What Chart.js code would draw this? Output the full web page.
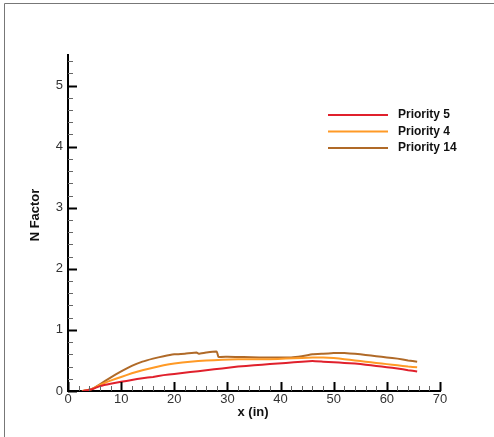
<!DOCTYPE html>
<html>
<head>
<meta charset="utf-8">
<script src="https://cdn.jsdelivr.net/npm/chart.js@4"></script>
<style>
  html, body { margin: 0; padding: 0; background: #fff; }
  #wrap { width: 494px; height: 437px; position: relative; }
</style>
</head>
<body>
<div id="wrap"><canvas id="nChart"></canvas></div>
<script>
// Priority 5 (red)
const xP5 = [2.8, 4.5, 6, 8, 10, 12, 14, 16, 18, 20, 23, 26, 29, 32, 35, 38, 41, 44, 46, 48, 50, 52, 54, 56, 58, 60, 62, 64, 65.7];
const yP5 = [0, 0.03, 0.08, 0.12, 0.15, 0.18, 0.21, 0.23, 0.26, 0.28, 0.31, 0.34, 0.37, 0.4, 0.42, 0.44, 0.46, 0.48, 0.49, 0.48, 0.47, 0.46, 0.45, 0.43, 0.41, 0.39, 0.37, 0.34, 0.32];

// Priority 4 (orange)
const xP4 = [2.8, 4.5, 6, 8, 10, 12, 14, 16, 18, 20, 23, 26, 29, 32, 35, 38, 41, 44, 46, 48, 50, 52, 54, 56, 58, 60, 62, 64, 65.7];
const yP4 = [0, 0.03, 0.1, 0.17, 0.23, 0.29, 0.34, 0.38, 0.42, 0.45, 0.48, 0.5, 0.51, 0.52, 0.52, 0.52, 0.53, 0.54, 0.55, 0.55, 0.54, 0.52, 0.5, 0.48, 0.46, 0.44, 0.42, 0.4, 0.39];

// Priority 14 (brown)
const xP14 = [2.6, 4.4, 6, 8, 10, 12, 14, 16, 18, 20, 22, 24.2, 24.6, 26, 28, 28.3, 30, 33, 36, 39, 42, 44, 46, 48, 50, 52, 54, 56, 58, 60, 62, 64, 65.7];
const yP14 = [0, 0.03, 0.11, 0.22, 0.32, 0.41, 0.48, 0.53, 0.57, 0.6, 0.61, 0.63, 0.61, 0.63, 0.645, 0.56, 0.56, 0.555, 0.55, 0.55, 0.55, 0.57, 0.6, 0.61, 0.62, 0.62, 0.61, 0.59, 0.57, 0.55, 0.53, 0.5, 0.48];

const seriesNames = ["Priority 5", "Priority 4", "Priority 14"];
const xTickLabels = [0, 10, 20, 30, 40, 50, 60, 70];
const yTickLabels = [0, 1, 2, 3, 4, 5];

const pts = (xs, ys) => xs.map((x, i) => ({ x: x, y: ys[i] }));

// inward tick marks, legend, titles, frame
const decor = {
  id: "decor",
  afterDraw(chart) {
    const c = chart.ctx;
    const a = chart.chartArea;
    const xs = chart.scales.x, ys = chart.scales.y;
    c.save();
    // frame (top & left only, like the screenshot)
    c.strokeStyle = "#777";
    c.lineWidth = 1;
    c.beginPath();
    c.moveTo(4.5, 437); c.lineTo(4.5, 3.5); c.lineTo(494, 3.5);
    c.stroke();

    // x ticks
    for (let v = 0; v <= 70; v += 2) {
      const px = Math.round(xs.getPixelForValue(v)) + 0.5;
      const major = v % 10 === 0;
      c.strokeStyle = major ? "#000" : "#666";
      c.lineWidth = major ? 2 : 1;
      c.beginPath();
      c.moveTo(px, a.bottom);
      c.lineTo(px, a.bottom - (major ? 9 : 5));
      c.stroke();
    }
    // y ticks
    for (let k = 0; k <= 27; k++) {
      const v = k * 0.2;
      const py = Math.round(ys.getPixelForValue(v)) + 0.5;
      const major = k % 5 === 0;
      c.strokeStyle = major ? "#000" : "#666";
      c.lineWidth = major ? 2 : 1;
      c.beginPath();
      c.moveTo(a.left, py);
      c.lineTo(a.left + (major ? 9 : 5), py);
      c.stroke();
    }

    // legend
    c.font = "bold 12px 'Liberation Sans', Arial, sans-serif";
    c.textBaseline = "middle";
    c.textAlign = "left";
    chart.data.datasets.forEach((ds, i) => {
      const yy = 115 + i * 16.5;
      c.strokeStyle = ds.borderColor;
      c.lineWidth = 2;
      c.beginPath();
      c.moveTo(328, yy); c.lineTo(388, yy);
      c.stroke();
      c.fillStyle = "#111";
      c.fillText(ds.label, 398, yy);
    });

    // axis titles
    c.font = "bold 13px 'Liberation Sans', Arial, sans-serif";
    c.fillStyle = "#111";
    c.textAlign = "center";
    c.fillText("x (in)", (a.left + a.right) / 2 - 1, 412);
    c.translate(35, 215);
    c.rotate(-Math.PI / 2);
    c.fillText("N Factor", 0, 0);
    c.restore();
  }
};

const ctx = document.querySelector("#nChart").getContext("2d");

new Chart(ctx, {
  type: "line",
  data: {
    datasets: [
      { label: seriesNames[0], data: pts(xP5, yP5), borderColor: "#e0202c" },
      { label: seriesNames[1], data: pts(xP4, yP4), borderColor: "#ff9a26" },
      { label: seriesNames[2], data: pts(xP14, yP14), borderColor: "#b06a28" }
    ]
  },
  options: {
    responsive: true,
    maintainAspectRatio: false,
    animation: false,
    layout: { padding: { top: 55, right: 54, bottom: 24, left: 0 } },
    elements: {
      point: { radius: 0 },
      line: { borderWidth: 2, tension: 0.1 }
    },
    plugins: { legend: { display: false }, tooltip: { enabled: false } },
    scales: {
      x: {
        type: "linear",
        min: 0,
        max: 70,
        grid: { display: false, drawTicks: false },
        border: { display: true, color: "#000", width: 2 },
        afterFit: (s) => { s.height = 22; },
        afterBuildTicks: (s) => { s.ticks = xTickLabels.map(v => ({ value: v })); },
        ticks: {
          padding: 1,
          color: "#333",
          font: { family: "'Liberation Sans', Arial, sans-serif", size: 13 },
          maxRotation: 0
        }
      },
      y: {
        min: 0,
        max: 5.5,
        grid: { display: false, drawTicks: false },
        border: { display: true, color: "#000", width: 2 },
        afterFit: (s) => { s.width = 68; },
        afterBuildTicks: (s) => { s.ticks = yTickLabels.map(v => ({ value: v })); },
        ticks: {
          padding: 5,
          color: "#333",
          font: { family: "'Liberation Sans', Arial, sans-serif", size: 13 }
        }
      }
    }
  },
  plugins: [decor]
});
</script>
</body>
</html>
